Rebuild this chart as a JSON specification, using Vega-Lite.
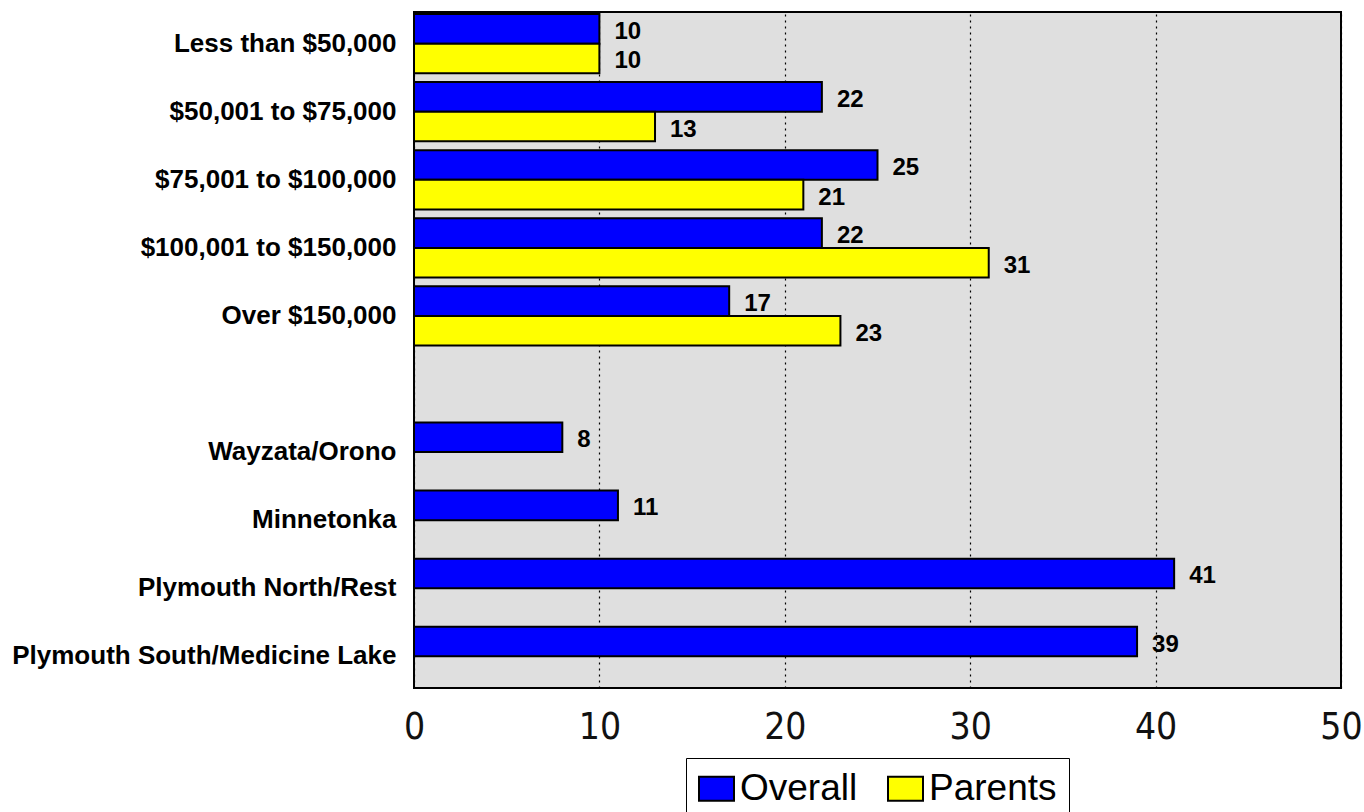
{
  "$schema": "https://vega.github.io/schema/vega-lite/v6.json",
  "width": 927,
  "height": 676,
  "autosize": {"type": "none"},
  "padding": {"left": 414, "top": 12, "right": 23, "bottom": 124},
  "background": "white",
  "config": {
    "font": "Liberation Sans",
    "view": {"fill": "#dfdfdf", "stroke": "black", "strokeWidth": 2}
  },
  "data": {
    "values": [
      {"category": "Less than $50,000", "group": "Overall", "value": 10},
      {"category": "Less than $50,000", "group": "Parents", "value": 10},
      {"category": "$50,001 to $75,000", "group": "Overall", "value": 22},
      {"category": "$50,001 to $75,000", "group": "Parents", "value": 13},
      {"category": "$75,001 to $100,000", "group": "Overall", "value": 25},
      {"category": "$75,001 to $100,000", "group": "Parents", "value": 21},
      {"category": "$100,001 to $150,000", "group": "Overall", "value": 22},
      {"category": "$100,001 to $150,000", "group": "Parents", "value": 31},
      {"category": "Over $150,000", "group": "Overall", "value": 17},
      {"category": "Over $150,000", "group": "Parents", "value": 23},
      {"category": "Wayzata/Orono", "group": "Overall", "value": 8},
      {"category": "Minnetonka", "group": "Overall", "value": 11},
      {"category": "Plymouth North/Rest", "group": "Overall", "value": 41},
      {"category": "Plymouth South/Medicine Lake", "group": "Overall", "value": 39}
    ]
  },
  "encoding": {
    "y": {
      "field": "category",
      "type": "nominal",
      "scale": {
        "domain": ["Less than $50,000", "$50,001 to $75,000", "$75,001 to $100,000", "$100,001 to $150,000", "Over $150,000", " ", "Wayzata/Orono", "Minnetonka", "Plymouth North/Rest", "Plymouth South/Medicine Lake"],
        "paddingInner": 0.13,
        "paddingOuter": 0.03
      },
      "axis": {
        "title": null,
        "ticks": false,
        "domain": false,
        "labelFontSize": 26,
        "labelFontWeight": "bold",
        "labelColor": "black",
        "labelPadding": 18,
        "labelLimit": 600
      }
    },
    "yOffset": {
      "field": "group",
      "type": "nominal",
      "scale": {"domain": ["Overall", "Parents"], "paddingInner": 0, "paddingOuter": 0}
    },
    "x": {
      "field": "value",
      "type": "quantitative",
      "scale": {"domain": [0, 50], "nice": false},
      "axis": {
        "title": null,
        "values": [0, 10, 20, 30, 40, 50],
        "ticks": false,
        "domain": false,
        "grid": true,
        "gridColor": "black",
        "gridDash": [2, 4],
        "gridWidth": 1.2,
        "labelFont": "Liberation Sans Narrow, DejaVu Sans Condensed, sans-serif",
        "labelFontSize": 37,
        "labelFontWeight": "normal",
        "labelColor": "#111111",
        "labelPadding": 21,
        "labelFlush": false
      }
    }
  },
  "layer": [
    {
      "mark": {"type": "bar", "stroke": "black", "strokeWidth": 2},
      "encoding": {
        "color": {
          "field": "group",
          "type": "nominal",
          "scale": {"domain": ["Overall", "Parents"], "range": ["#0000ff", "#ffff00"]},
          "legend": {
            "title": null,
            "orient": "none",
            "legendX": 272,
            "legendY": 746,
            "direction": "horizontal",
            "strokeColor": "black",
            "padding": 12,
            "symbolType": "M-1,-0.69H1V0.69H-1Z",
            "symbolSize": 1225,
            "symbolStrokeColor": "black",
            "symbolStrokeWidth": 2,
            "symbolOpacity": 1,
            "labelFontSize": 37,
            "labelColor": "black",
            "labelOffset": 5,
            "columnPadding": 26,
            "labelLimit": 400
          }
        }
      }
    },
    {
      "mark": {"type": "text", "align": "left", "dx": 15, "dy": 3, "fontSize": 24, "fontWeight": "bold", "color": "black"},
      "encoding": {"text": {"field": "value", "type": "quantitative"}}
    }
  ]
}
